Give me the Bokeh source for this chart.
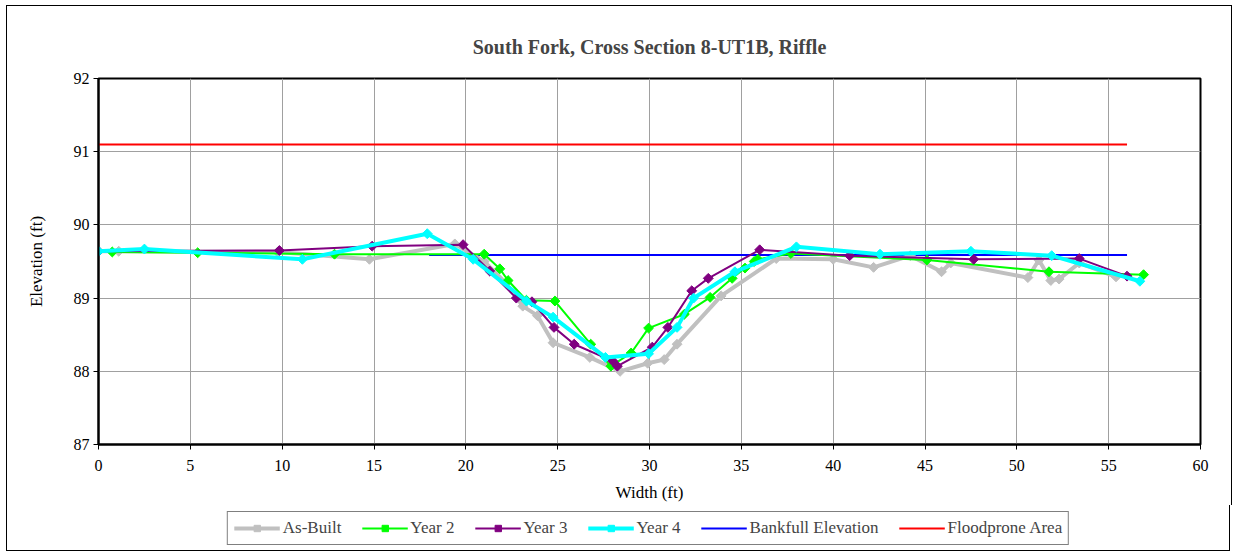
import numpy as np
from bokeh.plotting import figure
from bokeh.layouts import column
from bokeh.models import Legend, LegendItem, FixedTicker, Range1d
from bokeh.embed import file_html
from bokeh.resources import INLINE

# ---- data ----
asbuilt_x = [0.0, 1.1, 9.75, 14.75, 19.4, 21.0, 22.2, 23.1, 23.9, 24.75, 26.75, 28.4, 29.9, 30.8, 31.5, 33.9, 36.9, 40.0, 42.2, 44.2, 45.9, 46.4, 50.6, 51.2, 51.85, 52.3, 53.4, 55.4]
asbuilt_y = [89.64, 89.64, 89.63, 89.53, 89.74, 89.5, 89.2, 88.89, 88.76, 88.39, 88.19, 88.0, 88.11, 88.16, 88.37, 89.03, 89.54, 89.53, 89.42, 89.58, 89.36, 89.48, 89.28, 89.52, 89.24, 89.26, 89.48, 89.29]

year2_x = [0.75, 5.4, 12.85, 21.0, 21.85, 22.3, 23.3, 24.85, 26.8, 27.9, 29.0, 29.95, 31.9, 33.3, 34.5, 35.2, 35.7, 35.9, 37.7, 45.1, 51.75, 56.9]
year2_y = [89.63, 89.62, 89.6, 89.6, 89.4, 89.24, 88.97, 88.96, 88.37, 88.07, 88.25, 88.59, 88.78, 89.01, 89.27, 89.41, 89.5, 89.53, 89.61, 89.52, 89.36, 89.32]

year3_x = [0.0, 9.85, 14.9, 19.85, 21.3, 22.75, 23.6, 24.8, 25.9, 28.0, 28.25, 30.15, 31.0, 32.3, 33.2, 36.0, 40.9, 47.65, 53.4, 56.0]
year3_y = [89.64, 89.65, 89.71, 89.73, 89.37, 89.0, 88.95, 88.6, 88.37, 88.14, 88.07, 88.33, 88.6, 89.1, 89.27, 89.66, 89.58, 89.53, 89.54, 89.3]

year4_x = [0.0, 2.5, 11.1, 17.9, 20.4, 23.3, 24.75, 27.6, 29.95, 31.5, 32.4, 34.65, 38.0, 42.55, 47.5, 51.9, 56.7]
year4_y = [89.64, 89.67, 89.53, 89.88, 89.53, 88.96, 88.74, 88.19, 88.24, 88.6, 89.0, 89.36, 89.7, 89.6, 89.64, 89.58, 89.23]

bankfull_x = [18.0, 56.0]
bankfull_y = [89.59, 89.59]

flood_x = [0.0, 56.0]
flood_y = [91.1, 91.1]

x_ticks = list(range(0, 61, 5))
y_ticks = [87, 88, 89, 90, 91, 92]

series_names = ["As-Built", "Year 2", "Year 3", "Year 4", "Bankfull Elevation", "Floodprone Area"]

SERIF = "Liberation Serif"
ang = np.pi / 4

p = figure(width=1224, height=499, output_backend="svg", toolbar_location=None,
           x_range=Range1d(0, 60), y_range=Range1d(87, 92),
           title="South Fork, Cross Section 8-UT1B, Riffle",
           min_border_left=91, min_border_right=33, min_border_top=72, min_border_bottom=62,
           frame_width=1100, frame_height=365)
p.styles = {"border-top": "1px solid black", "border-left": "1px solid black",
            "border-right": "1px solid black", "box-sizing": "border-box",
            "margin-left": "6px", "margin-top": "5px"}

p.title.align = "center"
p.title.text_font = SERIF
p.title.text_font_size = "20px"
p.title.text_font_style = "bold"
p.title.offset = -18
p.title.standoff = 42

p.outline_line_color = "black"
p.outline_line_width = 2
p.background_fill_color = "white"
p.border_fill_color = "white"

for ax in (p.xaxis[0], p.yaxis[0]):
    ax.axis_line_color = "black"
    ax.axis_line_width = 2
    ax.major_label_text_font = SERIF
    ax.major_label_text_font_size = "16px"
    ax.axis_label_text_font = SERIF
    ax.axis_label_text_font_size = "17px"
    ax.axis_label_text_font_style = "normal"
    ax.major_tick_line_color = "black"
    ax.minor_tick_line_color = None
    ax.major_label_text_color = "black"
    ax.axis_label_text_color = "black"

p.xaxis.ticker = FixedTicker(ticks=x_ticks)
p.yaxis.ticker = FixedTicker(ticks=y_ticks)
p.xaxis.axis_label = "Width (ft)"
p.yaxis.axis_label = "Elevation (ft)"
p.xaxis.major_tick_in = 0
p.xaxis.major_tick_out = 5
p.yaxis.major_tick_in = 0
p.yaxis.major_tick_out = 5
p.xaxis.major_label_standoff = 10
p.yaxis.major_label_standoff = 4
p.xaxis.axis_label_standoff = 9
p.yaxis.axis_label_standoff = 25

p.xgrid.grid_line_color = "#a0a0a0"
p.ygrid.grid_line_color = "#a0a0a0"
p.xgrid.grid_line_width = 1
p.ygrid.grid_line_width = 1

styles = {
    "As-Built": dict(color="#c0c0c0", width=4, marker=True),
    "Year 2": dict(color="#00ff00", width=2, marker=True),
    "Year 3": dict(color="#800080", width=2, marker=True),
    "Year 4": dict(color="#00ffff", width=4, marker=True),
    "Bankfull Elevation": dict(color="#0000ff", width=2, marker=False),
    "Floodprone Area": dict(color="#ff0000", width=2, marker=False),
}

p.line(bankfull_x, bankfull_y, line_color="#0000ff", line_width=2)
p.line(flood_x, flood_y, line_color="#ff0000", line_width=2)
for xs, ys, name in [(asbuilt_x, asbuilt_y, "As-Built"), (year2_x, year2_y, "Year 2"),
                     (year3_x, year3_y, "Year 3"), (year4_x, year4_y, "Year 4")]:
    st = styles[name]
    p.line(xs, ys, line_color=st["color"], line_width=st["width"])
    p.scatter(xs, ys, marker="square", angle=ang, size=7, fill_color=st["color"], line_color=st["color"])

# legend strip below the chart
p2 = figure(width=1224, height=46, output_backend="svg", toolbar_location=None,
            x_range=Range1d(0, 1), y_range=Range1d(0, 1),
            x_axis_location=None, y_axis_location=None,
            min_border_left=0, min_border_right=0, min_border_top=0, min_border_bottom=0)
p2.styles = {"border-bottom": "1px solid black", "border-left": "1px solid black",
             "border-right": "1px solid black", "box-sizing": "border-box",
             "margin-left": "6px"}
p2.outline_line_color = None
p2.xgrid.visible = False
p2.ygrid.visible = False
p2.background_fill_color = "white"
p2.border_fill_color = "white"

nan = [float("nan")]
items = []
for name in series_names:
    st = styles[name]
    rs = [p2.line(nan, nan, line_color=st["color"], line_width=st["width"])]
    if st["marker"]:
        rs.append(p2.scatter(nan, nan, marker="square", angle=ang, size=7,
                             fill_color=st["color"], line_color=st["color"]))
    items.append(LegendItem(label=name, renderers=rs))

legend = Legend(items=items, orientation="horizontal", location="center")
legend.label_text_font = SERIF
legend.label_text_font_size = "17px"
legend.glyph_width = 46
legend.glyph_height = 16
legend.spacing = 20
legend.padding = 6
legend.margin = 0
legend.label_standoff = 3
legend.border_line_color = "black"
legend.border_line_width = 1
legend.background_fill_alpha = 1
p2.add_layout(legend, "center")

layout = column(p, p2, spacing=0)
open("out.html", "w").write(file_html(layout, INLINE))
